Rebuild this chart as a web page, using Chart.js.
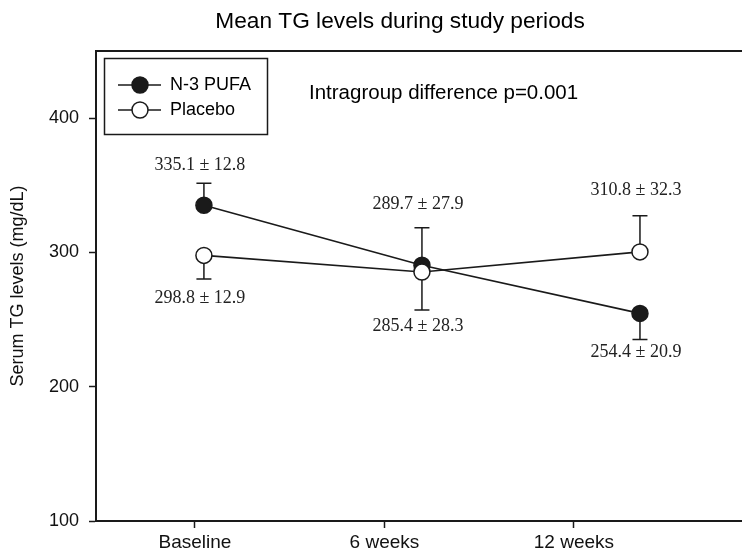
<!DOCTYPE html>
<html>
<head>
<meta charset="utf-8">
<script src="https://cdn.jsdelivr.net/npm/chart.js@4.4.1/dist/chart.umd.min.js"></script>
<style>
  html, body { margin: 0; padding: 0; background: #fff; }
  canvas { display: block; }
</style>
</head>
<body>
<canvas id="ctx" width="742" height="555"></canvas>
<script>
const chartTitle = "Mean TG levels during study periods";
const yTitle = "Serum TG levels (mg/dL)";
const note = "Intragroup difference p=0.001";

const categories = ["Baseline", "6 weeks", "12 weeks"];
const yTicks = [100, 200, 300, 400];

// plotted means
const n3Values = [335.1, 290.5, 254.6];
const placeboValues = [297.8, 285.4, 300.4];

// plotted error bar lengths, and which way each bar points (1 up, -1 down)
const n3Err = [16.4, 27.9, 19.5];
const placeboErr = [17.6, 28.3, 27.0];
const n3ErrDir = [1, 1, -1];
const placeboErrDir = [-1, -1, 1];

// printed mean ± SE labels
const n3Labels = ["335.1 ± 12.8", "289.7 ± 27.9", "254.4 ± 20.9"];
const placeboLabels = ["298.8 ± 12.9", "285.4 ± 28.3", "310.8 ± 32.3"];

const ctx = document.getElementById("ctx");
const sans = "'Liberation Sans', Arial, sans-serif";
const serif = "'Liberation Serif', 'Times New Roman', serif";
const ink = "#1a1a1a";

function points(values) {
  return values.map((v, i) => ({ x: i, y: v }));
}

const extras = {
  id: "extras",
  beforeDatasetsDraw(chart) {
    const c = chart.ctx;
    const y = chart.scales.y;
    const x = chart.scales.x;
    c.save();
    c.strokeStyle = ink;
    c.lineWidth = 1.5;
    chart.data.datasets.forEach((ds) => {
      ds.data.forEach((p, i) => {
        const px = x.getPixelForValue(p.x);
        const y0 = y.getPixelForValue(p.y);
        const y1 = y.getPixelForValue(p.y + ds.errDir[i] * ds.err[i]);
        c.beginPath();
        c.moveTo(px, y0);
        c.lineTo(px, y1);
        c.moveTo(px - 7.5, y1);
        c.lineTo(px + 7.5, y1);
        c.stroke();
      });
    });
    c.restore();
  },
  afterDatasetsDraw(chart) {
    const c = chart.ctx;
    const y = chart.scales.y;
    const x = chart.scales.x;
    c.save();
    c.fillStyle = "#222";
    c.font = "18px " + serif;
    c.textAlign = "center";
    c.textBaseline = "middle";
    chart.data.datasets.forEach((ds) => {
      ds.data.forEach((p, i) => {
        const px = x.getPixelForValue(p.x) - 4;
        const py = y.getPixelForValue(p.y) + ds.textDy[i];
        c.fillText(ds.texts[i], px, py);
      });
    });
    c.restore();
  },
  afterDraw(chart) {
    const c = chart.ctx;
    const a = chart.chartArea;
    c.save();
    // top frame line
    c.strokeStyle = ink;
    c.lineWidth = 2;
    c.beginPath();
    c.moveTo(a.left - 1, a.top);
    c.lineTo(a.right, a.top);
    c.stroke();

    // title
    c.fillStyle = "#000";
    c.font = "22.7px " + sans;
    c.textAlign = "center";
    c.textBaseline = "alphabetic";
    c.fillText(chartTitle, 400, 27.5);

    // note
    c.font = "20.5px " + sans;
    c.textAlign = "left";
    c.fillText(note, 309, 99);

    // legend
    c.lineWidth = 1.5;
    c.strokeStyle = ink;
    c.strokeRect(104.5, 58.5, 163, 76);
    const rows = [85, 110];
    chart.data.datasets.forEach((ds, i) => {
      const ry = rows[i];
      c.lineWidth = 1.6;
      c.beginPath();
      c.moveTo(118, ry);
      c.lineTo(161, ry);
      c.stroke();
      c.beginPath();
      c.arc(140, ry, 8, 0, Math.PI * 2);
      c.fillStyle = ds.pointBackgroundColor;
      c.fill();
      c.lineWidth = 1.5;
      c.stroke();
      c.fillStyle = "#000";
      c.font = "18px " + sans;
      c.textBaseline = "middle";
      c.fillText(ds.label, 170, ry + 0.5);
    });
    c.restore();
  },
};

new Chart(ctx, {
  type: "line",
  data: {
    datasets: [
      {
        label: "N-3 PUFA",
        data: points(n3Values),
        err: n3Err,
        errDir: n3ErrDir,
        texts: n3Labels,
        textDy: [-40, -61, 39],
        borderColor: ink,
        borderWidth: 1.6,
        pointRadius: 8,
        pointBorderWidth: 1.5,
        pointBackgroundColor: ink,
        pointBorderColor: ink,
        order: 1,
      },
      {
        label: "Placebo",
        data: points(placeboValues),
        err: placeboErr,
        errDir: placeboErrDir,
        texts: placeboLabels,
        textDy: [43, 54, -62],
        borderColor: ink,
        borderWidth: 1.6,
        pointRadius: 8,
        pointBorderWidth: 1.5,
        pointBackgroundColor: "#fff",
        pointBorderColor: ink,
        order: 0,
      },
    ],
  },
  options: {
    responsive: false,
    animation: false,
    devicePixelRatio: 1,
    layout: { autoPadding: false, padding: { top: 51, left: 0, right: 0, bottom: 0 } },
    plugins: {
      legend: { display: false },
      tooltip: { enabled: false },
    },
    scales: {
      x: {
        type: "linear",
        display: false,
        min: -0.495,
        max: 2.468,
      },
      x2: {
        type: "linear",
        position: "bottom",
        min: -0.522,
        max: 2.887,
        afterBuildTicks: (s) => {
          s.ticks = categories.map((c, i) => ({ value: i }));
        },
        afterFit: (s) => {
          s.height = 34;
        },
        ticks: {
          callback: (v) => categories[v],
          font: { family: sans, size: 19 },
          color: "#111",
          padding: 3,
          maxRotation: 0,
          autoSkip: false,
        },
        grid: { drawOnChartArea: false, tickLength: 7, tickColor: ink, tickWidth: 1.5 },
        border: { color: ink, width: 2 },
      },
      y: {
        type: "linear",
        min: 100,
        max: 450,
        afterBuildTicks: (s) => {
          s.ticks = yTicks.map((v) => ({ value: v }));
        },
        afterFit: (s) => {
          s.width = 96;
        },
        ticks: {
          font: { family: sans, size: 18 },
          color: "#111",
          padding: 10,
        },
        grid: { drawOnChartArea: false, tickLength: 7, tickColor: ink, tickWidth: 1.5 },
        border: { color: ink, width: 2 },
        title: {
          display: true,
          text: yTitle,
          font: { family: sans, size: 18 },
          color: "#111",
          padding: { top: 7, bottom: 0 },
        },
      },
    },
  },
  plugins: [extras],
});
</script>
</body>
</html>
